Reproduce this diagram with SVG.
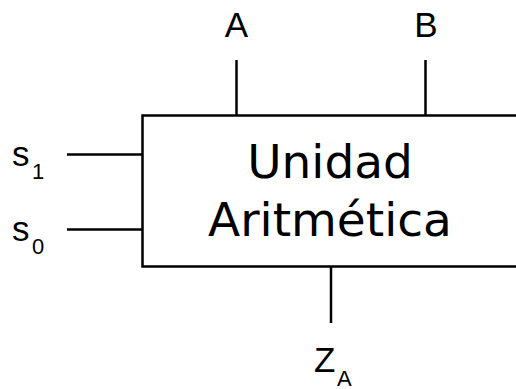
<svg xmlns="http://www.w3.org/2000/svg" width="516" height="389" viewBox="0 0 516 389">
<style>
.ln{stroke:#000;stroke-width:2.5;fill:none}
.lbl{font-family:"Liberation Sans",Arial,sans-serif;font-size:35px;fill:#000}
.sub{font-family:"Liberation Sans",Arial,sans-serif;font-size:22px;fill:#000}
.title{font-family:"DejaVu Sans",sans-serif;font-size:47px;fill:#000;text-anchor:middle}
</style>
<rect width="516" height="389" fill="#fff"/>
<g id="unit">
<path class="ln" d="M530,115.5 H142.5 V266.5 H530" stroke-width="3"/>
<text class="title" x="330" y="178">Unidad</text>
<text class="title" x="330" y="236">Aritmética</text>
</g>
<g id="connectors">
<line class="ln" x1="236.5" y1="60" x2="236.5" y2="115"/>
<line class="ln" x1="425.5" y1="60" x2="425.5" y2="115"/>
<line class="ln" x1="67" y1="154.5" x2="142" y2="154.5"/>
<line class="ln" x1="67" y1="229.5" x2="142" y2="229.5"/>
<line class="ln" x1="331" y1="267" x2="331" y2="323"/>
</g>
<g id="label-A"><text class="lbl" x="236.5" y="37" text-anchor="middle">A</text></g>
<g id="label-B"><text class="lbl" x="426" y="37" text-anchor="middle">B</text></g>
<g id="label-s1"><text class="lbl" x="12" y="166">s<tspan class="sub" x="32" y="179">1</tspan></text></g>
<g id="label-s0"><text class="lbl" x="12" y="241">s<tspan class="sub" x="32" y="254">0</tspan></text></g>
<g id="label-ZA"><text class="lbl" x="314" y="372">Z<tspan class="sub" x="337" y="386">A</tspan></text></g>
</svg>
